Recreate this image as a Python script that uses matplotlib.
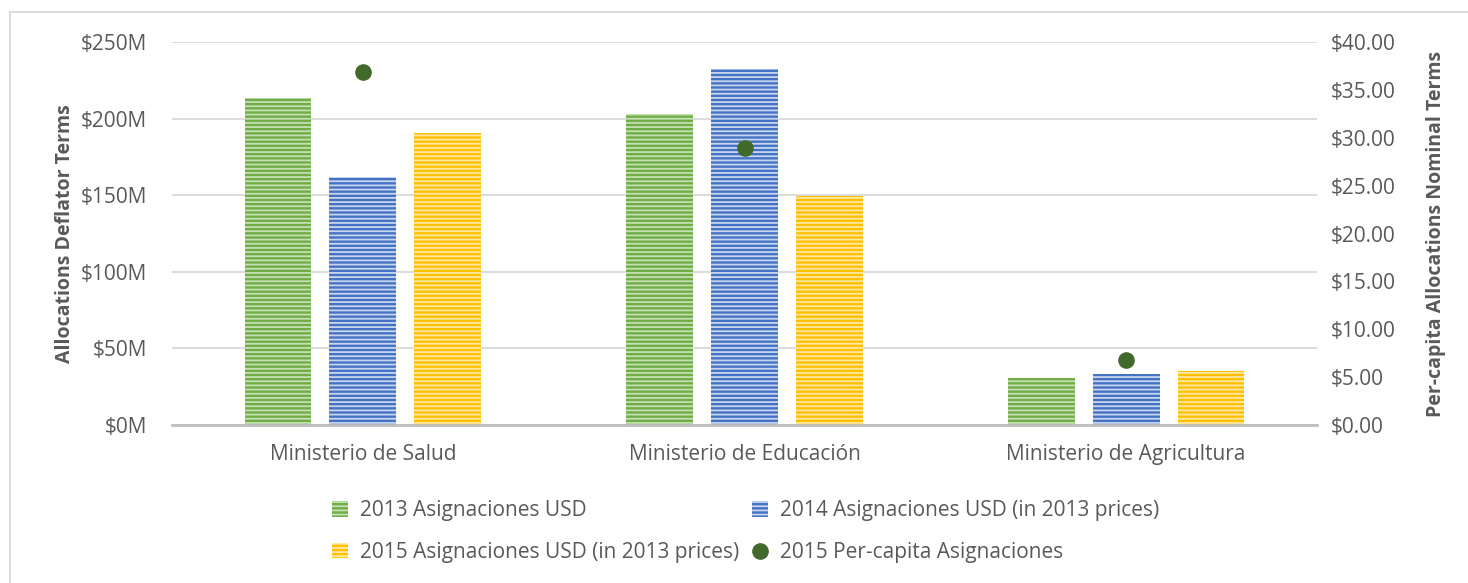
import numpy as np
import matplotlib
matplotlib.use("Agg")
import matplotlib.pyplot as plt
from matplotlib.patches import Rectangle
from matplotlib.lines import Line2D
from matplotlib.ticker import FuncFormatter

# data
ministries = ["Ministerio de Salud", "Ministerio de Educación", "Ministerio de Agricultura"]
alloc_2013 = [213.4, 203.0, 30.7]       # millions USD
alloc_2014 = [161.9, 232.4, 33.3]       # millions USD, 2013 prices
alloc_2015 = [190.6, 149.5, 35.2]       # millions USD, 2013 prices
percapita_2015 = [36.87, 28.93, 6.79]   # USD, nominal

series_names = ["2013 Asignaciones USD",
                "2014 Asignaciones USD (in 2013 prices)",
                "2015 Asignaciones USD (in 2013 prices)",
                "2015 Per-capita Asignaciones"]

plt.rcParams['font.family'] = ['Open Sans', 'DejaVu Sans']
plt.rcParams['hatch.linewidth'] = 1.3
txt = '#595959'
fs = 15

fig = plt.figure(figsize=(14.68, 5.83), dpi=100)
ax = fig.add_axes([172 / 1468, 158 / 583, 1145 / 1468, 383 / 583])
ax2 = ax.twinx()

x = np.arange(len(ministries))
w = 0.175
off = 0.222
colors = ['#70AD47', '#4472C4', '#FFC000']
stripes = ['#C5E0B4', '#C9D6EE', '#FFE8A6']

bars = []
for i, vals in enumerate([alloc_2013, alloc_2014, alloc_2015]):
    b = ax.bar(x + (i - 1) * off, vals, w, color=colors[i], edgecolor=stripes[i],
               hatch='----', linewidth=0, zorder=3)
    bars.append(b)

ax2.scatter(x, percapita_2015, s=120, color='#43682B', zorder=5)

ax.set_xlim(-0.5, 2.5)
ax.set_ylim(0, 250)
ax2.set_ylim(0, 40)
ax.set_yticks(np.arange(0, 251, 50))
ax2.set_yticks(np.arange(0, 41, 5))
ax.yaxis.set_major_formatter(FuncFormatter(lambda v, p: f"${v:.0f}M"))
ax2.yaxis.set_major_formatter(FuncFormatter(lambda v, p: f"${v:.2f}"))
ax.set_xticks(x)
ax.set_xticklabels(ministries)

ax.grid(axis='y', color='#D9D9D9', linewidth=1.3, zorder=0)
ax.set_axisbelow(True)
for a in (ax, ax2):
    for s in a.spines.values():
        s.set_visible(False)
    a.tick_params(length=0, labelsize=fs, labelcolor=txt)
ax.spines['bottom'].set_visible(True)
ax.spines['bottom'].set_color('#BFBFBF')
ax.spines['bottom'].set_linewidth(2)
ax.spines['bottom'].set_zorder(4)
ax.tick_params(axis='y', pad=18)
ax.tick_params(axis='x', pad=14)
ax2.tick_params(axis='y', pad=10)

ax.set_ylabel("Allocations Deflator Terms", fontsize=14, fontweight='bold', color=txt, labelpad=4)
ax2.set_ylabel("Per-capita Allocations Nominal Terms", fontsize=14, fontweight='bold', color=txt, labelpad=22)

handles = [bars[0], bars[2], bars[1],
           Line2D([], [], marker='o', linestyle='none', markersize=11, color='#43682B')]
labels = [series_names[0], series_names[2], series_names[1], series_names[3]]
fig.legend(handles, labels, ncol=2, loc='center', bbox_to_anchor=(0.508, 0.088),
           frameon=False, fontsize=fs, labelcolor=txt, handlelength=0.75, handleheight=0.75,
           handletextpad=0.6, columnspacing=0.6, labelspacing=1.0)

fig.patches.append(Rectangle((10 / 1468, -0.1), 1.2, 1 - 12 / 583 + 0.1,
                             transform=fig.transFigure, fill=False,
                             edgecolor='#D9D9D9', linewidth=1.3))

fig.savefig("out.png", dpi=100)
